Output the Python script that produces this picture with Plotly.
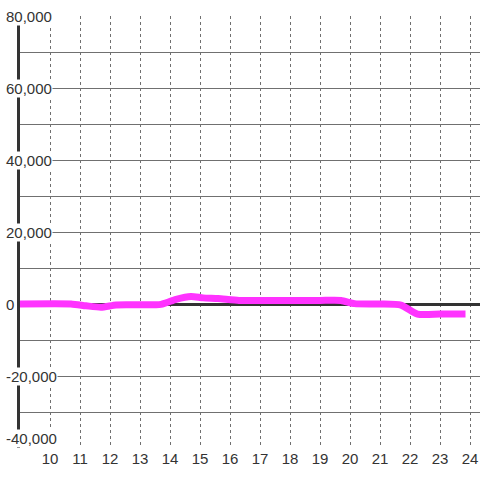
import plotly.graph_objects as go

# data
hours = [9, 10.7, 11.2, 11.7, 12.2, 12.7, 13.7, 14.2, 14.7, 15.1, 15.6, 16.3, 17, 18, 19, 19.7, 20.15, 21, 21.7, 22.25, 23, 23.85]
values = [0, 0, -500, -900, -250, -200, -100, 1300, 2100, 1700, 1500, 1000, 1000, 1000, 1000, 1000, 100, 0, -300, -2800, -2800, -2800]

x_ticks = list(range(10, 25))
y_ticks = [80000, 60000, 40000, 20000, 0, -20000, -40000]
y_tick_text = ["80,000", "60,000", "40,000", "20,000", "0", "-20,000", "-40,000"]
y_grid = list(range(-40000, 80001, 10000))

FONT = "Liberation Sans, Arial, sans-serif"
TXT = "#333333"
GRID = "#707070"

fig = go.Figure()
fig.add_trace(go.Scatter(
    x=hours, y=values, mode="lines",
    line=dict(color="#ff33ff", width=7, shape="spline", smoothing=0.6),
    hoverinfo="skip", showlegend=False,
))

# y tick labels with white background (covering gridlines / axis line)
L, W = 20, 460
for i, (v, t) in enumerate(zip(y_ticks, y_tick_text)):
    last = i == len(y_ticks) - 1
    fig.add_annotation(
        x=(5 - L) / W, xref="paper", y=v, yref="y",
        text=t, showarrow=False, xanchor="left",
        yanchor="bottom" if last else "middle",
        bgcolor="white", borderpad=0,
        font=dict(family=FONT, size=15, color=TXT),
    )

fig.update_xaxes(
    range=[9, 9 + W / 30], tickvals=x_ticks, ticktext=[str(v) for v in x_ticks],
    showgrid=True, gridcolor=GRID, gridwidth=1, griddash="dot",
    zeroline=False, showline=False, ticks="", automargin=False,
    tickfont=dict(family=FONT, size=15, color=TXT),
    fixedrange=True,
)
fig.update_yaxes(
    range=[-40000, 80000], tickvals=y_grid, showticklabels=False,
    showgrid=True, gridcolor=GRID, gridwidth=1,
    zeroline=True, zerolinecolor="#333333", zerolinewidth=3,
    showline=True, linecolor="#333333", linewidth=3, ticks="", automargin=False,
    fixedrange=True,
)
fig.update_layout(
    width=480, height=480,
    margin=dict(l=L, r=0, t=16, b=32, autoexpand=False),
    plot_bgcolor="white", paper_bgcolor="white",
    font=dict(family=FONT, size=15, color=TXT),
)

fig.write_html("out.html", config={"displayModeBar": False},
               post_script="document.body.style.margin='0px';document.body.style.overflow='hidden';")
